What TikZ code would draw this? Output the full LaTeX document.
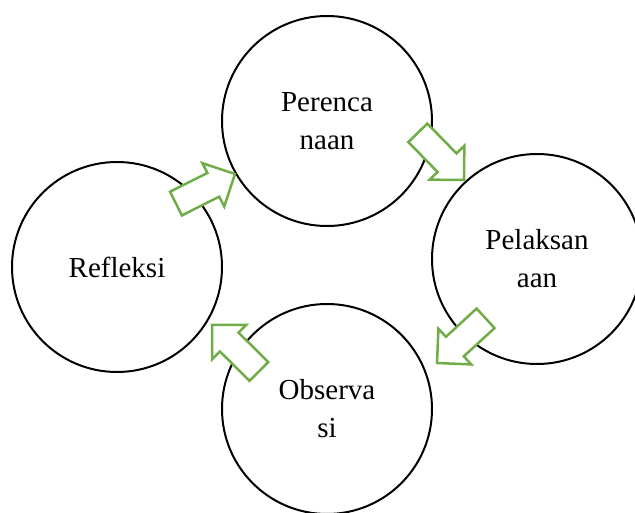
\documentclass[tikz,border=0pt]{standalone}
\usepackage{fontspec}
\setmainfont{Liberation Serif}
\usetikzlibrary{shapes.arrows}
\definecolor{cyclegreen}{HTML}{70AD47}
\tikzset{
  phase/.style={circle, draw=black, line width=2pt, fill=white, minimum size=210pt, inner sep=0pt,
    align=center, font=\fontsize{29}{38}\selectfont},
  blockarrow/.style={single arrow, draw=cyclegreen, fill=white, line width=2.5pt,
    minimum height=66pt, minimum width=0pt, inner xsep=12pt, inner ysep=12pt, outer sep=0pt,
    single arrow head extend=11pt, single arrow tip angle=90, anchor=tip}
}
\begin{document}
\begin{tikzpicture}[x=1pt,y=1pt]
\useasboundingbox (0,0) rectangle (635,512);
\clip (0,0) rectangle (635,512);
\fill[white] (0,0) rectangle (635,512);
\node[phase] (ref) at (117,245) {Refleksi};
\node[phase] (plan) at (327,391) {Perenca\\naan};
\node[phase] (act) at (537,253) {Pelaksan\\aan};
\node[phase] (obs) at (327,103) {Observa\\si};
\node[blockarrow, rotate=26.6] (a1) at (235,338) {};
\node[blockarrow, rotate=-45.6] (a2) at (464,332) {};
\node[blockarrow, rotate=222.6] (a3) at (437,149) {};
\node[blockarrow, rotate=135.3] (a4) at (212,187) {};
\end{tikzpicture}
\end{document}
